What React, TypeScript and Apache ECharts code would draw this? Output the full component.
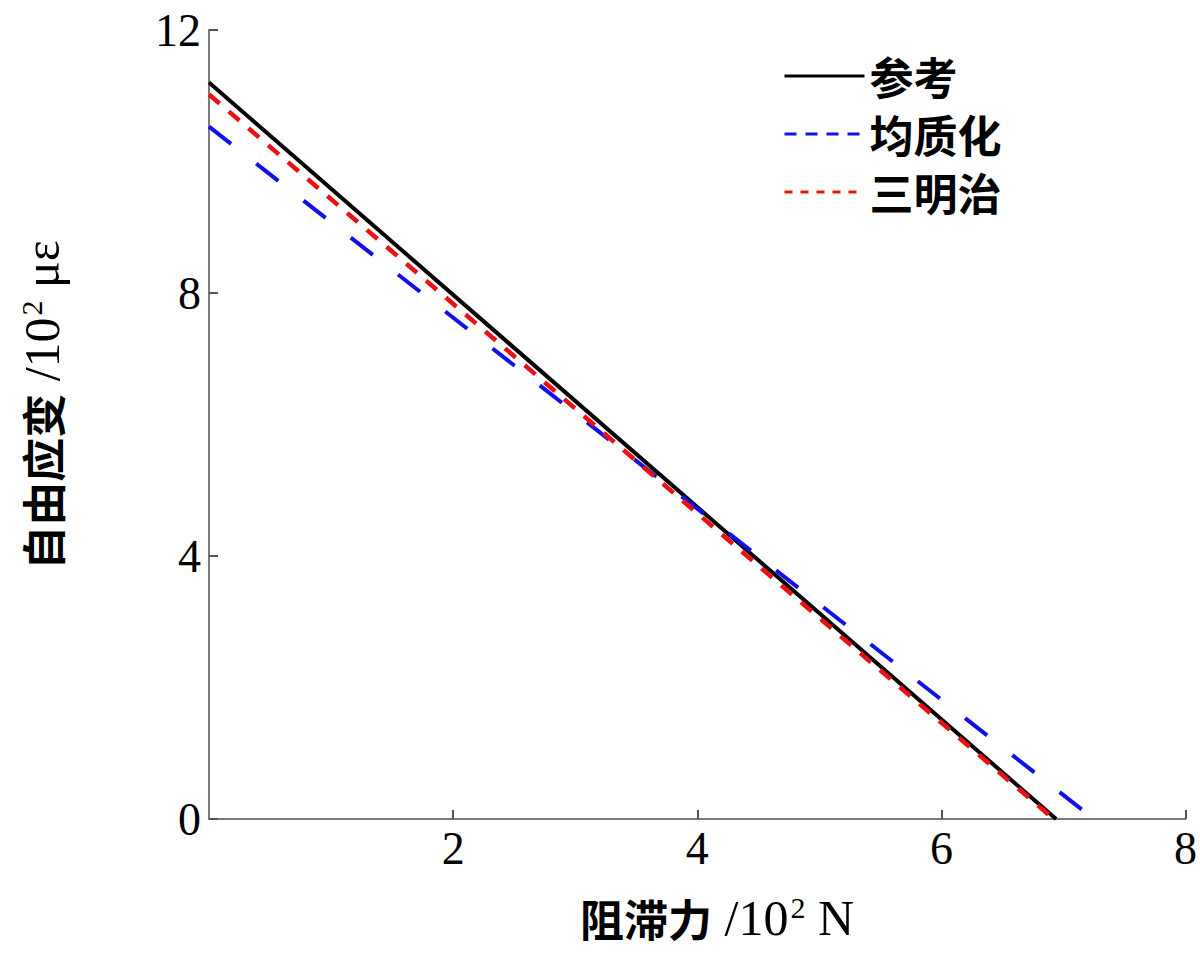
import { useEffect, useRef } from 'react';
import * as echarts from 'echarts';

// series data: [阻滞力 (10^2 N), 自由应变 (10^2 με)]
const referenceData = [[0, 11.2], [6.94, 0]];
const homogenizedData = [[0, 10.53], [7.25, 0]];
const sandwichData = [[0, 11.02], [6.92, 0]];

const seriesNames = ['参考', '均质化', '三明治'];
const xAxisTitle = ['阻滞力', ' /10', '2', ' N'];
const yAxisTitle = ['自由应变', ' /10', '2', ' με'];

const SERIF = "'Liberation Serif', serif";
const CJK = "'Noto Sans CJK SC', sans-serif";

// rich text for the axis titles: Chinese part, number part, superscript
const titleRich = {
  c: { fontFamily: CJK, fontSize: 44, fontWeight: 'bold', fill: '#000', lineHeight: 56 },
  n: { fontFamily: SERIF, fontSize: 50, fill: '#000', lineHeight: 56 },
  s: { fontFamily: SERIF, fontSize: 30, fill: '#000', lineHeight: 56, padding: [0, 0, 22, 2] },
};

const buildTitle = (parts: string[]) =>
  `{c|${parts[0]}}{n|${parts[1]}}{s|${parts[2]}}{n|${parts[3]}}`;

export default function App() {
  const chartRef = useRef<HTMLDivElement>(null);

  useEffect(() => {
    if (!chartRef.current) return;
    const chart = echarts.init(chartRef.current, undefined, { renderer: 'svg' });

    chart.setOption({
      animation: false,
      backgroundColor: '#ffffff',
      grid: { left: 209, right: 13, top: 30, bottom: 141 },
      legend: {
        orient: 'vertical',
        left: 778,
        top: 48,
        itemWidth: 80,
        itemHeight: 14,
        itemGap: 12,
        itemStyle: { opacity: 0 },
        textStyle: { fontFamily: CJK, fontSize: 44, fontWeight: 'bold', color: '#000', lineHeight: 46 },
        data: [
          { name: seriesNames[0], lineStyle: { width: 3, type: 'solid' } },
          { name: seriesNames[1], lineStyle: { width: 3, type: [12, 9] } },
          { name: seriesNames[2], lineStyle: { width: 3, type: [8, 8] } },
        ],
      },
      xAxis: {
        type: 'value',
        min: 0,
        max: 8,
        interval: 2,
        axisLine: { lineStyle: { color: '#7a7a7a', width: 2 } },
        axisTick: { inside: true, length: 9, lineStyle: { color: '#555', width: 2 } },
        axisLabel: { showMinLabel: false, fontFamily: SERIF, fontSize: 46, color: '#000', margin: 6 },
        splitLine: { show: false },
      },
      yAxis: {
        type: 'value',
        min: 0,
        max: 12,
        interval: 4,
        axisLine: { show: true, lineStyle: { color: '#7a7a7a', width: 2 } },
        axisTick: { show: true, inside: true, length: 9, lineStyle: { color: '#555', width: 2 } },
        axisLabel: { fontFamily: SERIF, fontSize: 46, color: '#000', margin: 8 },
        splitLine: { show: false },
      },
      graphic: [
        {
          type: 'text',
          x: 717,
          y: 918,
          style: {
            text: buildTitle(xAxisTitle),
            rich: titleRich,
            textAlign: 'center',
            textVerticalAlign: 'middle',
          },
        },
        {
          type: 'text',
          x: 42,
          y: 405,
          rotation: Math.PI / 2,
          style: {
            text: buildTitle(yAxisTitle),
            rich: titleRich,
            textAlign: 'center',
            textVerticalAlign: 'middle',
          },
        },
      ],
      series: [
        {
          name: seriesNames[0],
          type: 'line',
          data: referenceData,
          symbol: 'none',
          lineStyle: { color: '#000000', width: 4 },
          itemStyle: { color: '#000000' },
          z: 2,
        },
        {
          name: seriesNames[1],
          type: 'line',
          data: homogenizedData,
          symbol: 'none',
          lineStyle: { color: '#1010ee', width: 4, type: [28, 32] },
          itemStyle: { color: '#1010ee' },
          z: 3,
        },
        {
          name: seriesNames[2],
          type: 'line',
          data: sandwichData,
          symbol: 'none',
          lineStyle: { color: '#ee1010', width: 4.5, type: [14, 12] },
          itemStyle: { color: '#ee1010' },
          z: 4,
        },
      ],
    });

    return () => chart.dispose();
  }, []);

  return (
    <div
      ref={chartRef}
      style={{ position: 'fixed', left: 0, top: 0, width: 1200, height: 960 }}
    />
  );
}
